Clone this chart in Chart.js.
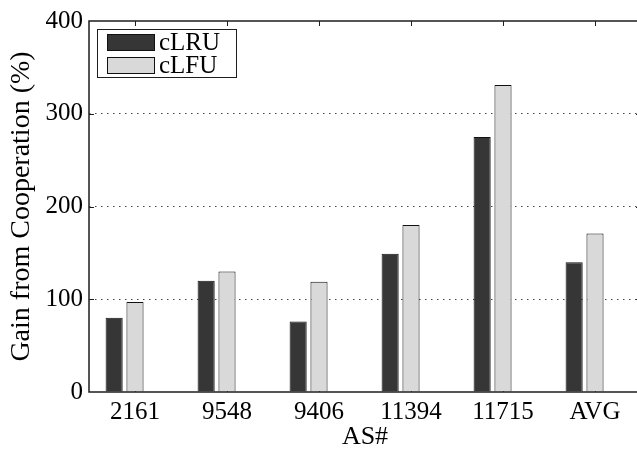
<!DOCTYPE html>
<html>
<head>
<meta charset="utf-8">
<script src="https://cdn.jsdelivr.net/npm/chart.js@4/dist/chart.umd.min.js"></script>
<style>
  html, body { margin: 0; padding: 0; background: #fff; overflow: hidden; font-family: "Liberation Serif", serif; }
  #wrap { width: 645px; height: 453px; }
  .warm { position: absolute; left: -999px; top: -999px; font-family: "Liberation Serif"; font-size: 25px; }
</style>
</head>
<body>
<span class="warm">Gain cLRU 0123456789</span>
<div id="wrap"><canvas id="c" width="645" height="453"></canvas></div>
<script>
// AS numbers on the x axis, plus the average
const categories = ['2161', '9548', '9406', '11394', '11715', 'AVG'];
// Gain from cooperation (%) for each caching scheme
const cLRU = [80, 120, 76, 149, 275, 140];
const cLFU = [97, 130, 119, 180, 331, 171];
// Empty third slot in each group (keeps the MATLAB-style group spacing)
const spacer = [null, null, null, null, null, null];
const yTicks = [0, 100, 200, 300, 400];

const SERIF = '"Liberation Serif", "DejaVu Serif", serif';
const INK = '#1e1e1e';

// Box frame with inward tick marks, like a MATLAB axes box
const framePlugin = {
  id: 'boxFrame',
  beforeDatasetsDraw(chart) {
    try {
      const ctx = chart.ctx, a = chart.chartArea, xs = chart.scales.x, ys = chart.scales.y;
      ctx.save();
      ctx.strokeStyle = INK;
      ctx.lineWidth = 1;
      const len = 5;
      for (let i = 0; i < categories.length; i++) {
        const x = Math.round(xs.getPixelForValue(i)) + 0.5;
        ctx.beginPath();
        ctx.moveTo(x, a.top); ctx.lineTo(x, a.top + len);
        ctx.moveTo(x, a.bottom); ctx.lineTo(x, a.bottom - len);
        ctx.stroke();
      }
      for (let k = 1; k < yTicks.length - 1; k++) {
        const y = Math.round(ys.getPixelForValue(yTicks[k])) + 0.5;
        ctx.beginPath();
        ctx.moveTo(a.left, y); ctx.lineTo(a.left + len, y);
        ctx.moveTo(a.right, y); ctx.lineTo(a.right - len, y);
        ctx.stroke();
      }
      ctx.restore();
    } catch (e) { console.error('frame ticks: ' + e); }
  },
  afterDatasetsDraw(chart) {
    try {
      const ctx = chart.ctx, a = chart.chartArea;
      ctx.save();
      ctx.strokeStyle = INK;
      ctx.lineWidth = 1.5;
      ctx.strokeRect(a.left, a.top, a.right - a.left, a.bottom - a.top);
      ctx.restore();
    } catch (e) { console.error('frame: ' + e); }
  }
};

// Boxed legend in the upper-left corner of the plot
const boxLegend = {
  id: 'boxLegend',
  afterDraw(chart) {
    try {
      const ctx = chart.ctx, a = chart.chartArea;
      const sets = chart.data.datasets.filter(d => d.label);
      const x0 = a.left + 8, y0 = a.top + 8;
      const w = 139, rowH = 23, h = 48;
      const font = Chart.helpers.toFont({ family: SERIF, size: 25 });
      ctx.save();
      ctx.fillStyle = '#fff';
      ctx.fillRect(x0, y0, w, h);
      ctx.strokeStyle = INK;
      ctx.lineWidth = 1;
      ctx.strokeRect(x0 + 0.5, y0 + 0.5, w, h);
      sets.forEach((d, i) => {
        const sy = y0 + 5 + i * rowH;
        ctx.fillStyle = d.backgroundColor;
        ctx.fillRect(x0 + 10, sy, 48, 17);
        ctx.strokeStyle = '#111';
        ctx.strokeRect(x0 + 10.5, sy + 0.5, 47, 16);
        Chart.helpers.renderText(ctx, d.label, x0 + 62, sy + 9.5, font, {
          color: '#000', textAlign: 'left', textBaseline: 'middle'
        });
      });
      ctx.restore();
    } catch (e) { console.error('legend: ' + e); }
  }
};

Chart.register(framePlugin, boxLegend);
Chart.defaults.font.family = SERIF;

function build() {
  try {
    new Chart(document.getElementById('c'), {
      type: 'bar',
      data: {
        labels: categories,
        datasets: [
          { label: 'cLRU', data: cLRU, backgroundColor: '#363636', borderColor: '#111', borderWidth: 1 },
          { label: 'cLFU', data: cLFU, backgroundColor: '#d9d9d9', borderColor: '#111', borderWidth: 1 },
          { label: '', data: spacer, backgroundColor: 'rgba(0,0,0,0)' }
        ]
      },
      options: {
        responsive: false,
        animation: false,
        categoryPercentage: 0.68,
        barPercentage: 0.82,
        layout: { padding: { left: 0, right: 4, top: 16, bottom: 0 } },
        plugins: { legend: { display: false }, tooltip: { enabled: false } },
        scales: {
          x: {
            grid: { display: false, drawTicks: false },
            border: { display: false },
            ticks: { color: '#000', font: { family: SERIF, size: 25 }, padding: 5, autoSkip: false, maxRotation: 0 },
            title: { display: true, text: 'AS#', color: '#000', font: { family: SERIF, size: 26 }, padding: { top: 0, bottom: 0 } },
            afterFit(s) { s.height = 61; }
          },
          y: {
            min: 0, max: 400,
            afterBuildTicks(s) { s.ticks = yTicks.map(v => ({ value: v })); },
            grid: {
              drawTicks: false,
              lineWidth: 1,
              color: c => (c.tick && c.tick.value > 0 && c.tick.value < 400) ? '#444' : 'rgba(0,0,0,0)'
            },
            border: { display: false, dash: [1.5, 4.5] },
            ticks: { color: '#000', font: { family: SERIF, size: 25 }, padding: 6 },
            title: { display: true, text: 'Gain from Cooperation (%)', color: '#000', font: { family: SERIF, size: 28 }, padding: { top: 5, bottom: 0 } },
            afterFit(s) { s.width = 89; }
          }
        }
      }
    });
  } catch (e) { console.error('build: ' + e); }
}

// Build once the serif face is ready so the canvas text uses it
document.fonts.load('25px "Liberation Serif"').then(build, build);
</script>
</body>
</html>
